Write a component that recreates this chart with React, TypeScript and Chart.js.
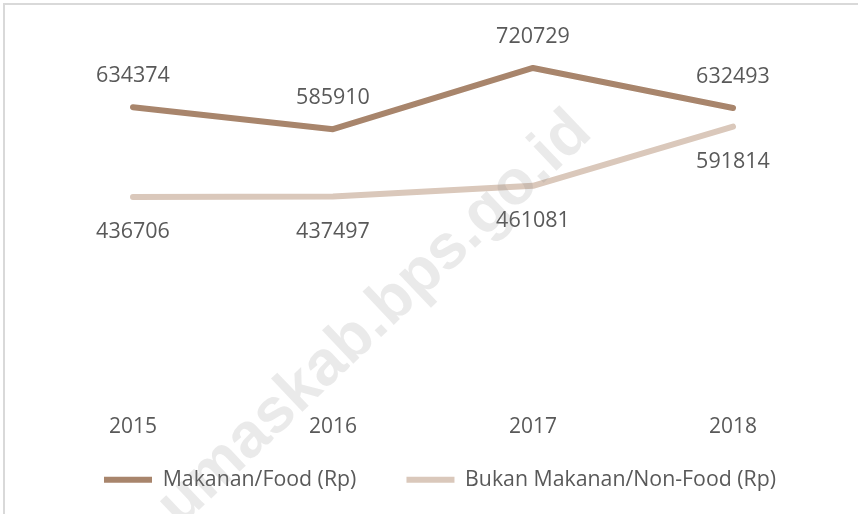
import React, { useEffect, useRef } from "react";
import { Chart, registerables } from "chart.js";

Chart.register(...registerables);

const years = ["2015", "2016", "2017", "2018"];
const foodValues = [634374, 585910, 720729, 632493];
const nonFoodValues = [436706, 437497, 461081, 591814];
const seriesNames = ["Makanan/Food (Rp)", "Bukan Makanan/Non-Food (Rp)"];
const watermarkText = "umaskab.bps.go.id";

const TEXT = "#595959";
const FONT = "'Open Sans', 'DejaVu Sans', sans-serif";
const FOOD_COLOR = "#a8856c";
const NONFOOD_COLOR = "#dac8bb";

const dataLabelPlugin = {
  id: "dataLabels",
  afterDatasetsDraw(chart: any) {
    const ctx = chart.ctx;
    ctx.save();
    ctx.font = `21.5px ${FONT}`;
    ctx.fillStyle = TEXT;
    ctx.textAlign = "center";
    ctx.textBaseline = "middle";
    chart.data.datasets.forEach((ds: any, di: number) => {
      const meta = chart.getDatasetMeta(di);
      meta.data.forEach((pt: any, i: number) => {
        const off = di === 0 ? -31 : 35;
        ctx.fillText(String(ds.data[i]), pt.x, pt.y + off);
      });
    });
    ctx.restore();
  },
};

const decorPlugin = {
  id: "decor",
  afterDraw(chart: any) {
    const ctx = chart.ctx;
    ctx.save();
    ctx.translate(378, 340);
    ctx.rotate((-43.5 * Math.PI) / 180);
    ctx.font = `bold 63px 'Liberation Sans', Arial, sans-serif`;
    ctx.fillStyle = "rgba(128,128,128,0.17)";
    ctx.textAlign = "left";
    ctx.textBaseline = "alphabetic";
    ctx.fillText(watermarkText, -273, 0);
    ctx.restore();
    ctx.save();
    ctx.fillStyle = "#d9d9d9";
    ctx.fillRect(3, 3, 860, 2);
    ctx.fillRect(3, 3, 2, 520);
    ctx.restore();
  },
};

export default function App() {
  const ref = useRef<HTMLCanvasElement | null>(null);
  useEffect(() => {
    if (!ref.current) return;
    const chart = new Chart(ref.current, {
      type: "line",
      data: {
        labels: years,
        datasets: [
          {
            label: seriesNames[0],
            data: foodValues,
            borderColor: FOOD_COLOR,
            backgroundColor: FOOD_COLOR,
            borderWidth: 6,
            borderCapStyle: "round",
            borderJoinStyle: "round",
            pointRadius: 0,
            pointHoverRadius: 0,
            tension: 0,
          },
          {
            label: seriesNames[1],
            data: nonFoodValues,
            borderColor: NONFOOD_COLOR,
            backgroundColor: NONFOOD_COLOR,
            borderWidth: 6,
            borderCapStyle: "round",
            borderJoinStyle: "round",
            pointRadius: 0,
            pointHoverRadius: 0,
            tension: 0,
          },
        ],
      },
      options: {
        animation: false,
        responsive: false,
        devicePixelRatio: 1,
        layout: { padding: { left: 33, right: 11, top: 32, bottom: 13.5 } },
        plugins: {
          tooltip: { enabled: false },
          legend: {
            position: "bottom",
            labels: {
              color: TEXT,
              font: { family: FONT, size: 21.3 },
              usePointStyle: true,
              pointStyle: "line",
              pointStyleWidth: 48,
              padding: 28,
              generateLabels: (chart: any) => {
                const items = Chart.defaults.plugins.legend.labels.generateLabels(chart);
                items[0].text = items[0].text + "    ";
                return items;
              },
            },
          },
        },
        scales: {
          x: {
            offset: true,
            grid: { display: false, drawTicks: false },
            border: { display: false },
            ticks: {
              color: TEXT,
              font: { family: FONT, size: 21 },
              padding: 19,
            },
            afterFit: (s: any) => {
              s.height = 46;
            },
          },
          y: {
            position: "right",
            min: 0,
            max: 800000,
            grid: { display: false, drawTicks: false },
            border: { display: false },
            ticks: { display: false },
            afterFit: (s: any) => {
              s.width = 14;
            },
          },
        },
      },
      plugins: [dataLabelPlugin, decorPlugin],
    });
    return () => chart.destroy();
  }, []);
  return (
    <div
      style={{
        position: "fixed",
        left: 0,
        top: 0,
        width: 858,
        height: 514,
        background: "#ffffff",
      }}
    >
      <canvas ref={ref} width={858} height={514} style={{ display: "block" }} />
    </div>
  );
}
